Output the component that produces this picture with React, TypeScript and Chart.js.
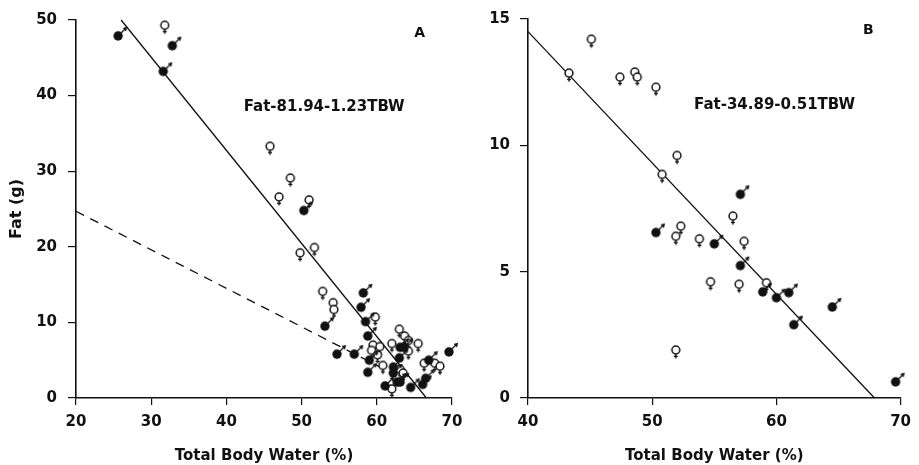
import React, { useEffect, useRef } from "react";
import { Chart, registerables } from "chart.js";

Chart.register(...registerables);

const FONT = "'DejaVu Sans', 'Liberation Sans', sans-serif";
const INK = "#111";

// ---------- Panel A data ----------
const aMaleX = [25.6, 32.8, 31.6, 50.3, 53.1, 58.2, 57.9, 58.5, 58.8, 54.7, 57.0, 59.0, 58.8, 63.1, 63.6, 63.0, 62.2, 62.2, 61.1, 62.7, 63.1, 64.5, 66.1, 66.5, 66.9, 69.6];
const aMaleY = [47.9, 46.6, 43.2, 24.8, 9.5, 13.9, 12.0, 10.1, 8.2, 5.8, 5.8, 5.0, 3.4, 6.7, 6.7, 5.3, 4.1, 3.3, 1.6, 2.1, 2.1, 1.4, 1.8, 2.6, 5.0, 6.1];
const aFemaleX = [31.8, 45.8, 48.5, 47.0, 51.0, 49.8, 51.7, 52.8, 54.2, 54.3, 59.8, 59.5, 59.3, 60.4, 60.1, 60.8, 62.0, 63.0, 63.7, 64.2, 64.2, 65.5, 63.1, 63.5, 62.0, 66.3, 67.7, 68.4];
const aFemaleY = [49.3, 33.3, 29.1, 26.6, 26.2, 19.2, 19.9, 14.1, 12.6, 11.7, 10.7, 7.0, 6.3, 6.8, 5.7, 4.3, 7.2, 9.1, 8.2, 7.6, 6.2, 7.2, 3.8, 3.3, 1.2, 4.6, 4.6, 4.2];
const aFitX = [26.0, 66.6];
const aFitY = [50.0, 0];
const aDashX = [20, 62.0];
const aDashY = [24.7, 3.3];
const aXTicks = [20, 30, 40, 50, 60, 70];
const aYTicks = [0, 10, 20, 30, 40, 50];

// ---------- Panel B data ----------
const bMaleX = [57.1, 50.3, 55.0, 57.1, 58.9, 60.0, 61.0, 64.5, 61.4, 69.6];
const bMaleY = [8.06, 6.55, 6.1, 5.24, 4.2, 3.97, 4.17, 3.6, 2.9, 0.64];
const bFemaleX = [43.3, 45.1, 47.4, 48.6, 48.8, 50.3, 52.0, 50.8, 56.5, 52.3, 51.9, 53.8, 57.4, 54.7, 57.0, 59.2, 51.9];
const bFemaleY = [12.86, 14.2, 12.7, 12.9, 12.7, 12.3, 9.6, 8.85, 7.2, 6.8, 6.4, 6.3, 6.2, 4.6, 4.5, 4.56, 1.9];
const bFitX = [40, 67.9];
const bFitY = [14.5, 0];
const bXTicks = [40, 50, 60, 70];
const bYTicks = [0, 5, 10, 15];

const xTitle = "Total Body Water (%)";
const yTitleA = "Fat (g)";
const eqA = "Fat-81.94-1.23TBW";
const eqB = "Fat-34.89-0.51TBW";

const zip = (xs: number[], ys: number[]) => xs.map((x, i) => ({ x, y: ys[i] }));

function makeMale(): HTMLCanvasElement {
  const c = document.createElement("canvas");
  c.width = 26;
  c.height = 26;
  const g = c.getContext("2d")!;
  g.fillStyle = INK;
  g.strokeStyle = INK;
  g.beginPath();
  g.arc(13, 13, 4.7, 0, Math.PI * 2);
  g.fill();
  g.lineWidth = 1.3;
  g.beginPath();
  g.moveTo(16, 10);
  g.lineTo(20.5, 5.5);
  g.stroke();
  g.beginPath();
  g.moveTo(22.2, 3.8);
  g.lineTo(17.6, 5.0);
  g.lineTo(21.0, 8.4);
  g.closePath();
  g.fill();
  return c;
}

function makeFemale(): HTMLCanvasElement {
  const c = document.createElement("canvas");
  c.width = 26;
  c.height = 26;
  const g = c.getContext("2d")!;
  g.strokeStyle = INK;
  g.fillStyle = "#fff";
  g.lineWidth = 1.5;
  g.beginPath();
  g.arc(13, 13, 3.9, 0, Math.PI * 2);
  g.fill();
  g.stroke();
  g.lineWidth = 1.4;
  g.beginPath();
  g.moveTo(13, 16.8);
  g.lineTo(13, 21.5);
  g.moveTo(11, 19.4);
  g.lineTo(15, 19.4);
  g.stroke();
  return c;
}

type Note = { text: string; x: number; y: number; size: number };

function notesPlugin(notes: Note[]) {
  return {
    id: "notes",
    afterDraw(chart: any) {
      const { ctx, scales } = chart;
      ctx.save();
      ctx.fillStyle = INK;
      ctx.textAlign = "center";
      ctx.textBaseline = "middle";
      for (const n of notes) {
        ctx.font = `bold ${n.size}px ${FONT}`;
        ctx.fillText(n.text, scales.x.getPixelForValue(n.x), scales.y.getPixelForValue(n.y));
      }
      ctx.restore();
    },
  };
}

function axis(min: number, max: number, ticks: number[], opts: any) {
  return {
    type: "linear",
    min,
    max,
    afterBuildTicks: (s: any) => {
      s.ticks = ticks.map((v) => ({ value: v }));
    },
    ticks: {
      color: INK,
      font: { family: FONT, size: 15, weight: "bold" },
      padding: opts.padding,
    },
    grid: {
      drawOnChartArea: false,
      drawTicks: true,
      tickLength: opts.tickLength,
      color: INK,
      lineWidth: 1.2,
    },
    border: { display: true, color: INK, width: 1.6 },
    title: opts.title
      ? {
          display: true,
          text: opts.title,
          color: INK,
          font: { family: FONT, size: opts.titleSize, weight: "bold" },
          padding: opts.titlePadding,
        }
      : { display: false },
    afterFit: opts.afterFit,
  };
}

function Panel(props: { left: number; width: number; build: () => any }) {
  const ref = useRef<HTMLCanvasElement | null>(null);
  useEffect(() => {
    if (!ref.current) return;
    const chart = new Chart(ref.current, props.build());
    return () => chart.destroy();
  }, []);
  return (
    <canvas
      ref={ref}
      width={props.width}
      height={465}
      style={{ position: "absolute", left: props.left, top: 0, width: props.width, height: 465 }}
    />
  );
}

function buildConfig(p: {
  maleX: number[];
  maleY: number[];
  femaleX: number[];
  femaleY: number[];
  lines: { xs: number[]; ys: number[]; dash: number[] }[];
  xMin: number;
  xMax: number;
  yMin: number;
  yMax: number;
  xTicks: number[];
  yTicks: number[];
  yTitle: string | null;
  yWidth: number;
  yPad: number;
  rightPad: number;
  notes: Note[];
}) {
  const male = makeMale();
  const female = makeFemale();
  const lineSets = p.lines.map((l) => ({
    type: "line",
    data: zip(l.xs, l.ys),
    borderColor: INK,
    borderWidth: 1.3,
    borderDash: l.dash,
    pointRadius: 0,
    showLine: true,
    fill: false,
    clip: false,
    order: 3,
  }));
  return {
    type: "scatter",
    data: {
      datasets: [
        ...lineSets,
        {
          data: zip(p.femaleX, p.femaleY),
          pointStyle: female,
          pointRadius: 6,
          clip: false,
          order: 2,
        },
        {
          data: zip(p.maleX, p.maleY),
          pointStyle: male,
          pointRadius: 6,
          clip: false,
          order: 1,
        },
      ],
    },
    options: {
      responsive: false,
      animation: false,
      events: [],
      layout: { padding: { top: 17, right: p.rightPad, left: 0, bottom: 0 } },
      plugins: { legend: { display: false }, tooltip: { enabled: false } },
      scales: {
        x: axis(p.xMin, p.xMax, p.xTicks, {
          padding: 8,
          tickLength: 7,
          title: xTitle,
          titleSize: 15,
          titlePadding: { top: 0, bottom: 0 },
          afterFit: (s: any) => {
            s.height = 67;
          },
        }),
        y: axis(p.yMin, p.yMax, p.yTicks, {
          padding: p.yPad,
          tickLength: 8,
          title: p.yTitle,
          titleSize: 16,
          titlePadding: { top: 7, bottom: 0 },
          afterFit: (s: any) => {
            s.width = p.yWidth;
          },
        }),
      },
    },
    plugins: [notesPlugin(p.notes)],
  };
}

export default function App() {
  return (
    <div style={{ position: "fixed", left: 0, top: 0, width: 919, height: 465, background: "#fff", overflow: "hidden" }}>
      <Panel
        left={0}
        width={475}
        build={() =>
          buildConfig({
            maleX: aMaleX,
            maleY: aMaleY,
            femaleX: aFemaleX,
            femaleY: aFemaleY,
            lines: [
              { xs: aFitX, ys: aFitY, dash: [] },
              { xs: aDashX, ys: aDashY, dash: [9, 7] },
            ],
            xMin: 20,
            xMax: 70,
            yMin: 0,
            yMax: 50,
            xTicks: aXTicks,
            yTicks: aYTicks,
            yTitle: yTitleA,
            yWidth: 76,
            yPad: 11,
            rightPad: 23,
            notes: [
              { text: "A", x: 65.7, y: 48.2, size: 14 },
              { text: eqA, x: 53.0, y: 38.5, size: 15 },
            ],
          })
        }
      />
      <Panel
        left={475}
        width={444}
        build={() =>
          buildConfig({
            maleX: bMaleX,
            maleY: bMaleY,
            femaleX: bFemaleX,
            femaleY: bFemaleY,
            lines: [{ xs: bFitX, ys: bFitY, dash: [] }],
            xMin: 40,
            xMax: 70,
            yMin: 0,
            yMax: 15,
            xTicks: bXTicks,
            yTicks: bYTicks,
            yTitle: null,
            yWidth: 53,
            yPad: 10,
            rightPad: 14,
            notes: [
              { text: "B", x: 67.4, y: 14.56, size: 14 },
              { text: eqB, x: 59.85, y: 11.59, size: 15 },
            ],
          })
        }
      />
    </div>
  );
}
